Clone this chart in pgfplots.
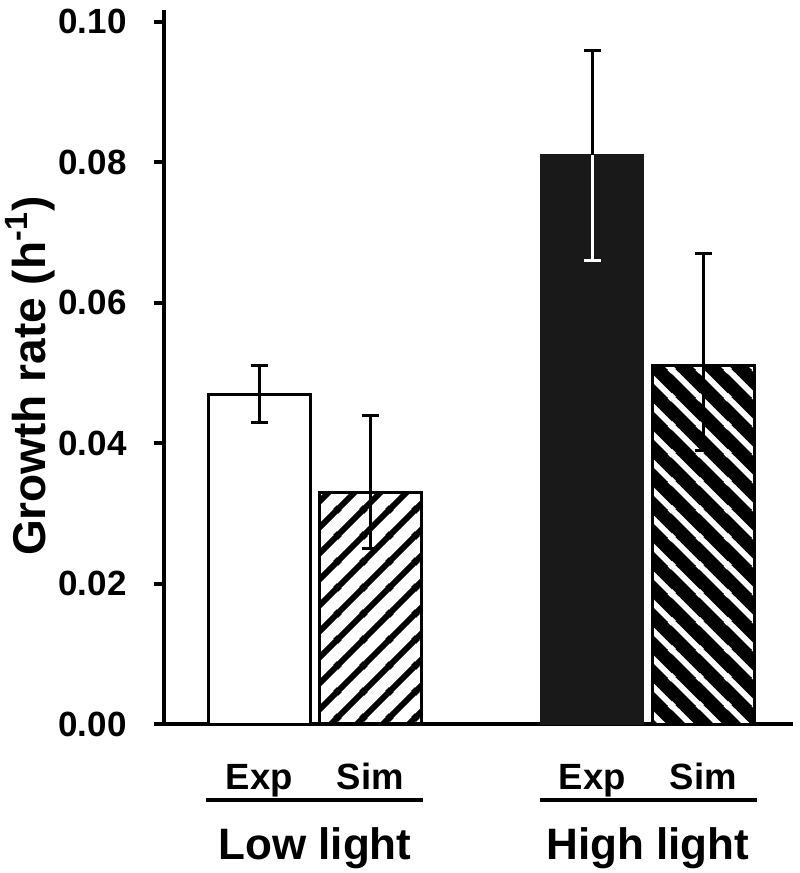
\documentclass[border=0pt]{standalone}
\usepackage{fontspec}
\setmainfont{Liberation Sans}
\usepackage{pgfplots}
\pgfplotsset{compat=1.18}
\usetikzlibrary{patterns}

\pgfdeclarepatternformonly{hatchNE}{\pgfqpoint{0pt}{0pt}}{\pgfqpoint{13pt}{13pt}}{\pgfqpoint{13pt}{13pt}}{%
  \pgfsetlinewidth{3pt}%
  \pgfpathmoveto{\pgfqpoint{-1pt}{-1pt}}\pgfpathlineto{\pgfqpoint{14pt}{14pt}}%
  \pgfpathmoveto{\pgfqpoint{-1pt}{12pt}}\pgfpathlineto{\pgfqpoint{1pt}{14pt}}%
  \pgfpathmoveto{\pgfqpoint{12pt}{-1pt}}\pgfpathlineto{\pgfqpoint{14pt}{1pt}}%
  \pgfusepath{stroke}}
\pgfdeclarepatternformonly{hatchNW}{\pgfqpoint{0pt}{0pt}}{\pgfqpoint{14pt}{14pt}}{\pgfqpoint{14pt}{14pt}}{%
  \pgfsetlinewidth{3pt}%
  \pgfpathmoveto{\pgfqpoint{-1pt}{15pt}}\pgfpathlineto{\pgfqpoint{15pt}{-1pt}}%
  \pgfpathmoveto{\pgfqpoint{-1pt}{1pt}}\pgfpathlineto{\pgfqpoint{1pt}{-1pt}}%
  \pgfpathmoveto{\pgfqpoint{13pt}{15pt}}\pgfpathlineto{\pgfqpoint{15pt}{13pt}}%
  \pgfusepath{stroke}}

\begin{document}
\begin{tikzpicture}
\begin{axis}[
  name=ax,
  scale only axis,
  width=314.5pt, height=357pt,
  xmin=0.14, xmax=5.807,
  ymin=0, ymax=0.1017,
  axis x line=bottom, axis y line=left,
  axis line style={-, line width=2pt, black},
  ytick={0,0.02,0.04,0.06,0.08,0.1},
  /pgf/number format/.cd, fixed, fixed zerofill, precision=2, assume math mode=true,
  /pgfplots/.cd,
  y tick style={line width=2pt, black},
  tick align=outside,
  major tick length=4.75pt,
  xtick={1,2,4,5}, xticklabels={Exp,Sim,Exp,Sim},
  x tick style={draw=none},
  xticklabel style={font=\bfseries\fontsize{18.25}{20}\selectfont, anchor=base, yshift=-28pt},
  yticklabel style={font=\bfseries\fontsize{17.5}{20}\selectfont, anchor=east, inner sep=0pt, xshift=-13.75pt},
  ylabel={Growth rate (h\textsuperscript{-1})},
  ylabel style={font=\bfseries\fontsize{23}{26}\selectfont, at={(axis description cs:-0.1876,0.487)}, anchor=base},
  clip=false,
]
% Low light, Exp
\addplot[ybar, bar width=0.92, bar shift=0pt, draw=black, fill=white, line width=1.5pt,
  error bars/.cd, y dir=both, y explicit,
  error bar style={line width=1.5pt, black},
  error mark options={rotate=90, line width=1.5pt, mark size=4.25pt, black}]
  table[x=x, y=y, y error plus=ep, y error minus=em] {
x y ep em
1 0.047 0.004 0.004
};
% Low light, Sim
\addplot[ybar, bar width=0.92, bar shift=0pt, draw=black, line width=1.5pt,
  pattern=hatchNE, pattern color=black,
  error bars/.cd, y dir=both, y explicit,
  error bar style={line width=1.5pt, black},
  error mark options={rotate=90, line width=1.5pt, mark size=4.25pt, black}]
  table[x=x, y=y, y error plus=ep, y error minus=em] {
x y ep em
2 0.033 0.011 0.008
};
% High light, Exp (upper error in black)
\addplot[ybar, bar width=0.92, bar shift=0pt, draw=black!90, fill=black!90, line width=1pt,
  error bars/.cd, y dir=plus, y explicit,
  error bar style={line width=1.5pt, black},
  error mark options={rotate=90, line width=1.5pt, mark size=4.25pt, black}]
  table[x=x, y=y, y error plus=ep, y error minus=em] {
x y ep em
4 0.081 0.015 0.015
};
% High light, Exp (lower error in white, inside the bar)
\addplot[ybar, bar width=0.92, bar shift=0pt, draw=none, fill=none, forget plot,
  error bars/.cd, y dir=minus, y explicit,
  error bar style={line width=1.5pt, white},
  error mark options={rotate=90, line width=1.5pt, mark size=4.25pt, white}]
  table[x=x, y=y, y error plus=ep, y error minus=em] {
x y ep em
4 0.081 0.015 0.015
};
% High light, Sim
\addplot[ybar, bar width=0.92, bar shift=0pt, draw=black, line width=1.5pt,
  preaction={fill=black},
  pattern=hatchNW, pattern color=white,
  error bars/.cd, y dir=both, y explicit,
  error bar style={line width=1.5pt, black},
  error mark options={rotate=90, line width=1.5pt, mark size=4.25pt, black}]
  table[x=x, y=y, y error plus=ep, y error minus=em] {
x y ep em
5 0.051 0.016 0.012
};
% group underlines and labels
\draw[line width=2pt] ([yshift=-38pt]axis cs:0.518,0) -- ([yshift=-38pt]axis cs:2.473,0);
\draw[line width=2pt] ([yshift=-38pt]axis cs:3.532,0) -- ([yshift=-38pt]axis cs:5.48,0);
\node[anchor=base, font=\bfseries\fontsize{22}{26}\selectfont] at ([yshift=-67.5pt]axis cs:1.5,0) {Low light};
\node[anchor=base, font=\bfseries\fontsize{22}{26}\selectfont] at ([yshift=-67.5pt]axis cs:4.5,0) {High light};
\end{axis}
\pgfresetboundingbox
\path ([xshift=-82pt,yshift=-74.5pt]ax.south west) rectangle ([xshift=3.5pt,yshift=5pt]ax.north east);
\end{tikzpicture}
\end{document}
